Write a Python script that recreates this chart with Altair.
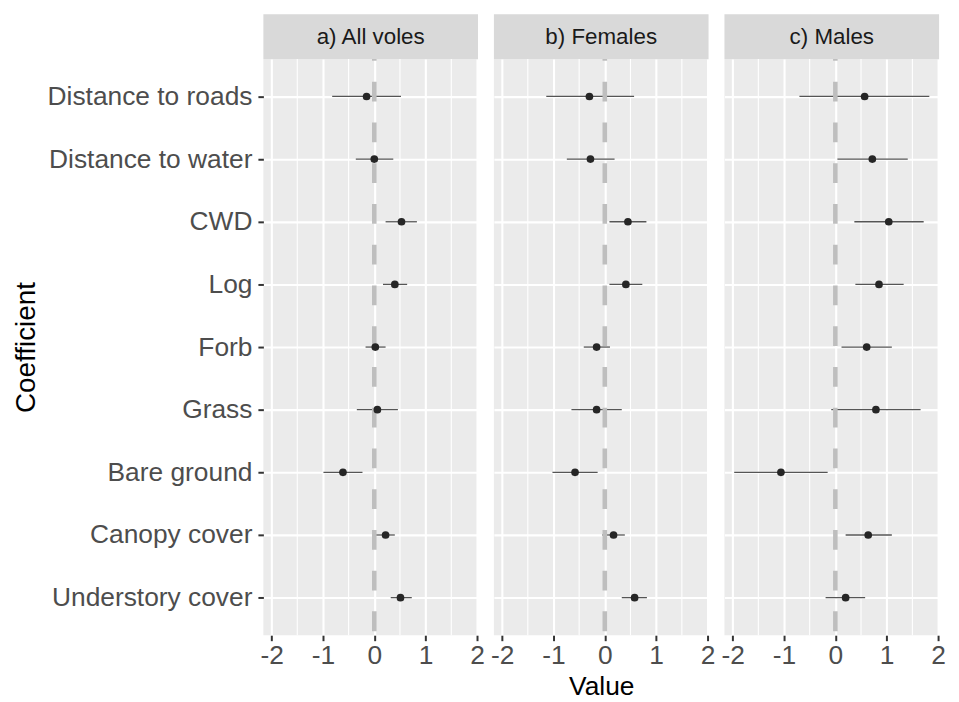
import altair as alt
import pandas as pd

coefs = ["Distance to roads", "Distance to water", "CWD", "Log", "Forb",
         "Grass", "Bare ground", "Canopy cover", "Understory cover"]
panels = ["a) All voles", "b) Females", "c) Males"]

all_est = [-0.15, 0.00, 0.53, 0.40, 0.02, 0.06, -0.61, 0.22, 0.51]
all_lo = [-0.82, -0.36, 0.22, 0.17, -0.17, -0.34, -0.99, 0.03, 0.32]
all_hi = [0.52, 0.37, 0.83, 0.64, 0.22, 0.46, -0.23, 0.40, 0.73]

fem_est = [-0.30, -0.28, 0.45, 0.41, -0.16, -0.16, -0.58, 0.17, 0.58]
fem_lo = [-1.14, -0.74, 0.09, 0.09, -0.41, -0.65, -1.02, -0.05, 0.33]
fem_hi = [0.57, 0.19, 0.81, 0.73, 0.10, 0.33, -0.14, 0.39, 0.82]

mal_est = [0.57, 0.72, 1.04, 0.85, 0.61, 0.79, -1.06, 0.64, 0.20]
mal_lo = [-0.70, 0.04, 0.37, 0.39, 0.12, -0.08, -1.97, 0.20, -0.19]
mal_hi = [1.83, 1.41, 1.72, 1.33, 1.10, 1.66, -0.15, 1.10, 0.58]

major_ticks = [-2, -1, 0, 1, 2]
minor_ticks = [-1.5, -0.5, 0.5, 1.5]

series = [(all_est, all_lo, all_hi), (fem_est, fem_lo, fem_hi), (mal_est, mal_lo, mal_hi)]

W, H = 216, 580
STRIP = 45
FONT = "Liberation Sans"

xscale = alt.Scale(domain=[-2.16, 2.02], nice=False, zero=False)
yscale = alt.Scale(domain=coefs, type="point", padding=0.6)

charts = []
for i, (p, (est, lo, hi)) in enumerate(zip(panels, series)):
    df = pd.DataFrame({"coef": coefs, "est": est, "lo": lo, "hi": hi})

    xaxis = alt.Axis(values=major_ticks, grid=True, gridColor="white", gridWidth=2.1,
                     ticks=True, tickSize=5.5, tickWidth=2, tickColor="#333333",
                     domain=False, labelFontSize=26.5, labelColor="#4D4D4D",
                     labelFont=FONT, labelPadding=2, labelFlush=False,
                     labelExpr="'' + datum.value",
                     title="Value" if i == 1 else None,
                     titleFontSize=26.5, titleFont=FONT, titleFontWeight="normal",
                     titleColor="black", titlePadding=5)
    if i == 0:
        yaxis = alt.Axis(grid=True, gridColor="white", gridWidth=2.1,
                         ticks=True, tickSize=5.5, tickWidth=2, tickColor="#333333",
                         domain=False, labelFontSize=26.5, labelColor="#4D4D4D",
                         labelFont=FONT, labelPadding=6, labelLimit=0,
                         title="Coefficient", titleFontSize=28, titleFont=FONT,
                         titleFontWeight="normal", titleColor="black", titlePadding=24)
    else:
        yaxis = alt.Axis(grid=True, gridColor="white", gridWidth=2.1,
                         ticks=False, labels=False, domain=False, title=None)

    base = alt.Chart(df)

    bars = base.mark_rule(color="#555555", strokeWidth=1.3).encode(
        x=alt.X("lo:Q", scale=xscale, axis=xaxis),
        x2="hi:Q",
        y=alt.Y("coef:N", scale=yscale, axis=yaxis, sort=coefs),
    )

    minor = alt.Chart(pd.DataFrame({"m": minor_ticks})).mark_rule(
        color="white", strokeWidth=1.1).encode(
        x=alt.X("m:Q", scale=xscale), y=alt.value(0), y2=alt.value(H))

    zero = alt.Chart(pd.DataFrame({"z": [0]})).mark_rule(
        color="#BEBEBE", strokeWidth=4.6, strokeDash=[20, 21], strokeDashOffset=18
    ).encode(x=alt.X("z:Q", scale=xscale), y=alt.value(0), y2=alt.value(H))

    pts = base.mark_circle(color="#262626", opacity=1, size=60).encode(
        x=alt.X("est:Q", scale=xscale),
        y=alt.Y("coef:N", scale=yscale, sort=coefs),
    )

    sdf = pd.DataFrame({"panel": [p]})
    strip = alt.Chart(sdf).mark_rect(color="#D9D9D9").encode(
        x=alt.value(0), x2=alt.value(W), y=alt.value(-STRIP), y2=alt.value(0))
    stext = alt.Chart(sdf).mark_text(fontSize=22.5, font=FONT, color="#1A1A1A",
                                     baseline="middle", align="center").encode(
        x=alt.value(W / 2), y=alt.value(-STRIP / 2 + 1), text="panel:N")

    layer = alt.layer(minor, bars, zero, pts, strip, stext).properties(width=W, height=H)
    charts.append(layer)

chart = alt.hconcat(*charts, spacing=16, bounds="flush").properties(
    padding={"left": 5, "top": 4, "right": 5, "bottom": 0}
).configure(font=FONT).configure_view(fill="#EBEBEB", stroke=None)

chart.save("out.html", embed_options={"renderer": "svg", "actions": False})
